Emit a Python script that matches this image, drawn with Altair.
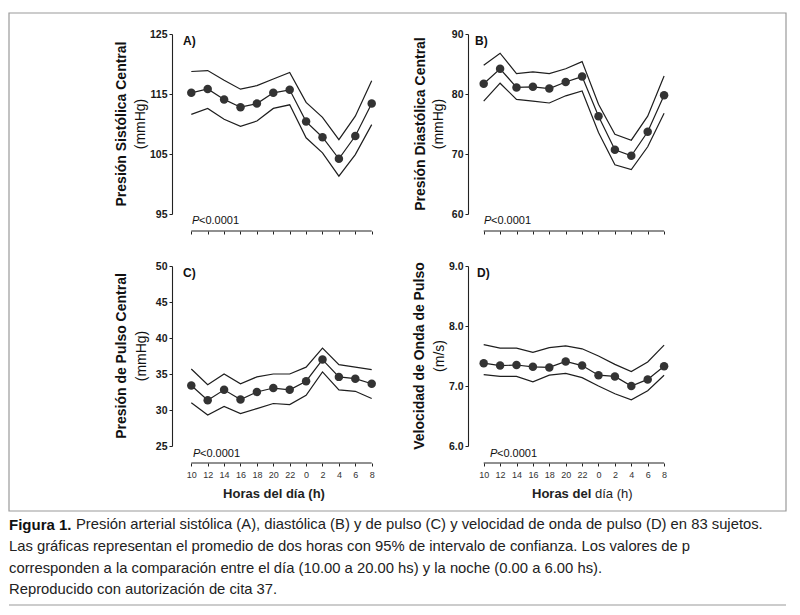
import altair as alt
import pandas as pd

# ---------------- data ----------------
hours = [10, 12, 14, 16, 18, 20, 22, 0, 2, 4, 6, 8]
hour_labels = [str(h) for h in hours]

A_mean = [115.2, 115.85, 114.1, 112.8, 113.4, 115.2, 115.7, 110.4, 107.8, 104.2, 108.0, 113.4]
A_hi = [118.75, 118.9, 117.3, 115.8, 116.4, 117.5, 118.6, 113.6, 111.1, 107.4, 111.3, 117.2]
A_lo = [111.6, 112.6, 110.8, 109.6, 110.5, 112.6, 113.2, 107.7, 105.2, 101.3, 104.9, 109.9]

B_mean = [81.7, 84.2, 81.1, 81.2, 80.9, 82.0, 82.9, 76.3, 70.7, 69.7, 73.7, 79.8]
B_hi = [84.8, 86.8, 83.4, 83.7, 83.4, 84.2, 85.4, 78.3, 73.3, 72.3, 76.3, 83.0]
B_lo = [78.8, 81.8, 79.1, 78.8, 78.5, 79.7, 80.5, 73.6, 68.2, 67.4, 71.2, 76.8]

C_mean = [33.4, 31.35, 32.8, 31.45, 32.5, 33.05, 32.8, 34.0, 37.0, 34.6, 34.35, 33.65]
C_hi = [35.7, 33.5, 35.0, 33.65, 34.6, 35.0, 35.0, 35.95, 38.6, 36.3, 35.95, 35.6]
C_lo = [31.0, 29.3, 30.5, 29.5, 30.2, 30.9, 30.75, 32.05, 35.3, 32.8, 32.6, 31.6]

D_mean = [7.38, 7.34, 7.35, 7.32, 7.31, 7.41, 7.34, 7.18, 7.16, 7.00, 7.11, 7.33]
D_hi = [7.69, 7.63, 7.63, 7.56, 7.64, 7.67, 7.62, 7.50, 7.36, 7.24, 7.40, 7.68]
D_lo = [7.19, 7.16, 7.16, 7.07, 7.18, 7.21, 7.14, 7.00, 6.87, 6.77, 6.92, 7.18]

A_ticks = [95, 105, 115, 125]
B_ticks = [60, 70, 80, 90]
C_ticks = [25, 30, 35, 40, 45, 50]
D_ticks = [6.0, 7.0, 8.0, 9.0]

caption_bold = "Figura 1."
caption_lines = [
    "Presión arterial sistólica (A), diastólica (B) y de pulso (C) y velocidad de onda de pulso (D) en 83 sujetos.",
    "Las gráficas representan el promedio de dos horas con 95% de intervalo de confianza. Los valores de p",
    "corresponden a la comparación entre el día (10.00 a 20.00 hs) y la noche (0.00 a 6.00 hs).",
    "Reproducido con autorización de cita 37.",
]
x_title = "Horas del día (h)"
x_title_a = "Horas del"
x_title_b = "día (h)"
p_text = "<0.0001"

# ---------------- helpers ----------------
H = 180
STEP = 16.4
FONT = "Liberation Sans"
label_expr = "[" + ",".join("'%s'" % s for s in hour_labels) + "][datum.value]"


def txt(s, x, y, **kw):
    return alt.Chart(pd.DataFrame({"t": [s]})).mark_text(**kw).encode(
        x=alt.value(x), y=alt.value(y), text="t:N"
    )


def panel(mean, hi, lo, domain, ticks, fmt, title1, title2, t1x, t2x,
          letter, letter_x, px, py, offset, width, bottom_titles=None, extra=None):
    a = offset / STEP
    b = width / STEP - 11 - a
    bottom = bottom_titles is not None
    df = pd.DataFrame({"i": list(range(12)), "media": mean, "sup": hi, "inf": lo})
    xenc = alt.X(
        "i:Q",
        scale=alt.Scale(domain=[-a, 11 + b], nice=False, zero=False),
        axis=alt.Axis(values=list(range(12)), tickCount=40, labelExpr=label_expr,
                      labels=bottom, domain=False, grid=False, ticks=True, tickSize=3,
                      offset=17, title=None, labelFontSize=9, labelPadding=4,
                      labelColor="#333", labelFont=FONT, labelOverlap=False,
                      labelFlush=False, tickColor="#222", tickWidth=1),
    )
    yenc = alt.Y(
        "valor:Q",
        scale=alt.Scale(domain=domain, nice=False, zero=False),
        axis=alt.Axis(values=ticks, tickCount=40, format=fmt, title=None, grid=False,
                      tickSize=3, labelPadding=2, labelFontSize=10.5, labelFont=FONT,
                      labelFontWeight="bold", labelOverlap=False, labelFlush=False,
                      domainColor="#222", tickColor="#222", labelColor="#1a1a1a",
                      domainWidth=1.1, tickWidth=1),
    )
    base = alt.Chart(df)
    lines = base.transform_fold(["media", "sup", "inf"], as_=["serie", "valor"]).mark_line(
        color="#1e1e1e", strokeWidth=1.2
    ).encode(x=xenc, y=yenc, detail="serie:N")
    pts = base.mark_circle(size=72, color="#333333", opacity=1).encode(
        x="i:Q", y=alt.Y("media:Q")
    )
    one = pd.DataFrame({"k": [0]})
    rule = alt.Chart(one).mark_rule(color="#222", strokeWidth=1.1).encode(
        x=alt.datum(0), x2=alt.datum(11), y=alt.value(H + 17)
    )
    layers = []
    if extra is not None:
        layers += extra
    layers += [lines, pts, rule,
               txt(title1, t1x, H / 2, angle=270, fontSize=14, fontWeight="bold",
                   font=FONT, color="#111", align="center", baseline="middle"),
               txt(title2, t2x, H / 2, angle=270, fontSize=14, font=FONT,
                   color="#111", align="center", baseline="middle"),
               txt(letter, letter_x, 7, fontSize=12, fontWeight="bold", font=FONT,
                   color="#111", align="left", baseline="middle"),
               txt("P", px, py, fontSize=11, fontStyle="italic", font=FONT,
                   color="#111", align="left", baseline="middle"),
               txt(p_text, px + 7, py, fontSize=11, font=FONT,
                   color="#111", align="left", baseline="middle")]
    if bottom:
        layers += bottom_titles
    return alt.layer(*layers).properties(width=width, height=H)


# frame, caption and bottom rule (decoration) drawn relative to panel A
one = pd.DataFrame({"k": [0]})
frame = alt.Chart(one).mark_rect(filled=False, color="#9a9a9a", strokeWidth=1.2).encode(
    x=alt.value(-163), x2=alt.value(614), y=alt.value(-21), y2=alt.value(477)
)
bottom_rule = alt.Chart(one).mark_rule(color="#9a9a9a", strokeWidth=1.2).encode(
    x=alt.value(-163), x2=alt.value(614), y=alt.value(571)
)
cap_kw = dict(font=FONT, fontSize=14.8, color="#222", align="left", baseline="middle")
caption = [txt(caption_bold, -163, 491, font=FONT, fontSize=15,
               fontWeight="bold", color="#111", align="left", baseline="middle"),
           txt(caption_lines[0], -96, 491, **cap_kw),
           txt(caption_lines[1], -163, 513, **cap_kw),
           txt(caption_lines[2], -163, 535, **cap_kw),
           txt(caption_lines[3], -163, 556, **cap_kw)]

xt_kw = dict(fontSize=13, font=FONT, color="#222", baseline="middle")
C_xtitle = [txt(x_title, 102, H + 48, fontWeight="bold", align="center", **xt_kw)]
D_xtitle = [txt(x_title_a, 64, H + 48, fontWeight="bold", align="left", **xt_kw),
            txt(x_title_b, 127, H + 48, align="left", **xt_kw)]

pA = panel(A_mean, A_hi, A_lo, [95, 125], A_ticks, "d",
           "Presión Sistólica Central", "(mmHg)", -50, -31,
           "A)", 11, 20, 187, 19.3, 218, extra=[frame, bottom_rule] + caption)
pB = panel(B_mean, B_hi, B_lo, [60, 90], B_ticks, "d",
           "Presión Diastólica Central", "(mmHg)", -47, -29,
           "B)", 7, 16, 187, 15.7, 212)
pC = panel(C_mean, C_hi, C_lo, [25, 50], C_ticks, "d",
           "Presión de Pulso Central", "(mmHg)", -50, -30,
           "C)", 11, 21, 188, 19.3, 218, bottom_titles=C_xtitle)
pD = panel(D_mean, D_hi, D_lo, [6.0, 9.0], D_ticks, ".1f",
           "Velocidad de Onda de Pulso", "(m/s)", -48, -28,
           "D)", 9, 22, 188, 15.7, 212, bottom_titles=D_xtitle)

chart = alt.concat(pA, pB, pC, pD, columns=2,
                   spacing={"row": 52, "column": 78}, bounds="flush").properties(
    padding={"left": 0, "top": 4, "right": 0, "bottom": 0}
).configure_view(stroke=None)

chart.save("out.html", embed_options={"renderer": "svg", "actions": False})
